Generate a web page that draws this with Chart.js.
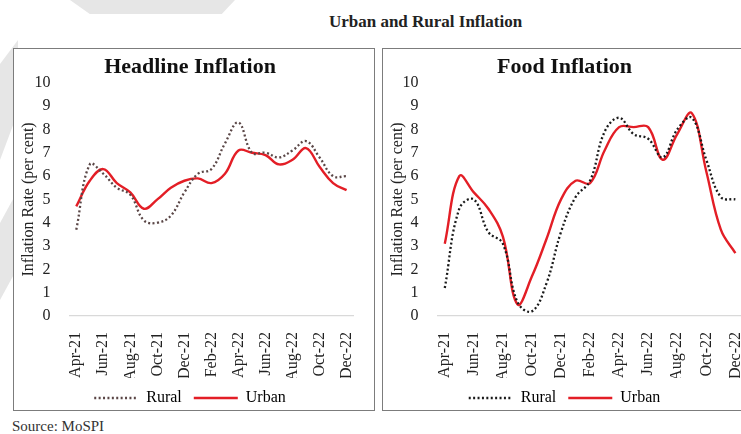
<!DOCTYPE html>
<html>
<head>
<meta charset="utf-8">
<script src="https://cdn.jsdelivr.net/npm/chart.js@4/dist/chart.umd.min.js"></script>
<style>
    html, body { margin: 0; padding: 0; background: #fff; }
    body { width: 741px; height: 434px; overflow: hidden; position: relative; font-family: 'Liberation Serif', serif; }
    .marca { position: absolute; background: #e6e6e6; }
    #titulo { position: absolute; left: 0; width: 851px; top: 12px; text-align: center; font-weight: bold; font-size: 17px; color: #222; }
    .painel { position: absolute; top: 48px; height: 361px; border: 1.5px solid #7c7c7c; overflow: hidden; background: #fff; }
    #fonte { position: absolute; left: 12px; top: 418px; font-size: 15px; color: #333; }
</style>
</head>
<body>
<div class="marca" style="left:0;top:40px;width:18px;height:120px;clip-path:polygon(0 20%,100% 0,100% 60%,0 100%);"></div>
<div class="marca" style="left:0;top:190px;width:18px;height:110px;clip-path:polygon(0 30%,100% 0,100% 70%,0 100%);"></div>
<div class="marca" style="left:70px;top:0;width:165px;height:14px;clip-path:polygon(0 0,100% 0,92% 100%,12% 100%);"></div>

<div id="titulo">Urban and Rural Inflation</div>

<div class="painel" style="left:13px;width:360px;"><canvas id="grafico-headline" width="360" height="367"></canvas></div>
<div class="painel" style="left:382px;width:380px;"><canvas id="grafico-food" width="380" height="367"></canvas></div>

<div id="fonte">Source: MoSPI</div>

<script>
// meses Apr-21 .. Dec-22
const meses = ['Apr-21', 'May-21', 'Jun-21', 'Jul-21', 'Aug-21', 'Sep-21', 'Oct-21', 'Nov-21', 'Dec-21',
    'Jan-22', 'Feb-22', 'Mar-22', 'Apr-22', 'May-22', 'Jun-22', 'Jul-22', 'Aug-22', 'Sep-22', 'Oct-22', 'Nov-22', 'Dec-22'];

const headlineRural = [3.7, 6.5, 6.1, 5.5, 5.2, 4.1, 4.0, 4.3, 5.3, 6.1, 6.3, 7.4, 8.3, 7.0, 7.0, 6.8, 7.1, 7.5, 6.8, 6.0, 6.0];
const headlineUrban = [4.7, 5.8, 6.3, 5.7, 5.3, 4.6, 5.0, 5.5, 5.8, 5.9, 5.7, 6.1, 7.1, 7.0, 6.9, 6.5, 6.7, 7.2, 6.4, 5.7, 5.4];

const foodRural = [1.2, 4.6, 5.0, 3.6, 3.1, 0.6, 0.2, 1.4, 3.6, 5.1, 5.8, 7.9, 8.5, 7.8, 7.6, 6.8, 8.0, 8.5, 6.7, 5.1, 5.0];
const foodUrban = [3.1, 6.0, 5.3, 4.6, 3.4, 0.5, 1.7, 3.3, 5.0, 5.8, 5.7, 7.1, 8.1, 8.1, 8.1, 6.7, 7.8, 8.7, 6.2, 3.7, 2.7];

const VERMELHO = '#e31e26';
const PONTILHADO = [2, 2.4];
const fonteSerif = 'Liberation Serif';

function criarGrafico(id, titulo, rural, urban, corRural, padDireita, larguraY) {
    const ctx = document.getElementById(id);

    new Chart(ctx, {
        type: 'line',
        data: {
            labels: meses,
            datasets: [
                {
                    label: 'Rural',
                    data: rural,
                    borderColor: corRural,
                    borderWidth: 2.3,
                    borderDash: PONTILHADO,
                    pointRadius: 0,
                    tension: 0.4,
                    fill: false
                },
                {
                    label: 'Urban',
                    data: urban,
                    borderColor: VERMELHO,
                    borderWidth: 2.4,
                    pointRadius: 0,
                    tension: 0.4,
                    fill: false
                }
            ]
        },
        options: {
            responsive: false,
            animation: false,
            devicePixelRatio: 1,
            layout: { padding: { left: 1, right: padDireita, top: 0, bottom: 0 } },
            plugins: {
                title: {
                    display: true,
                    text: titulo,
                    color: '#111',
                    font: { family: fonteSerif, size: 22, weight: 'bold' },
                    padding: { top: 5, bottom: 2.4 }
                },
                legend: {
                    position: 'bottom',
                    labels: {
                        usePointStyle: true,
                        pointStyle: 'line',
                        pointStyleWidth: 44,
                        padding: 12,
                        color: '#222',
                        font: { family: fonteSerif, size: 16 },
                        // o padrão pega o estilo do ponto, então o tracejado some
                        generateLabels: chart => chart.data.datasets.map((ds, i) => ({
                            text: ds.label,
                            datasetIndex: i,
                            strokeStyle: ds.borderColor,
                            fillStyle: ds.borderColor,
                            lineWidth: ds.borderWidth,
                            lineDash: ds.borderDash || [],
                            pointStyle: 'line',
                            hidden: false
                        }))
                    }
                },
                tooltip: { enabled: false }
            },
            scales: {
                x: {
                    offset: true,
                    grid: { display: false },
                    border: { color: '#d9d9d9', width: 1.2 },
                    ticks: {
                        autoSkip: false,
                        maxRotation: 90,
                        minRotation: 90,
                        padding: 8,
                        color: '#222',
                        font: { family: fonteSerif, size: 16 },
                        callback: (v, i) => i % 2 === 0 ? meses[i] : ''
                    },
                    afterFit: s => { s.height = 62; }
                },
                y: {
                    min: 0,
                    max: 10,
                    grid: { display: false },
                    border: { display: false },
                    ticks: {
                        stepSize: 1,
                        padding: 11,
                        color: '#222',
                        font: { family: fonteSerif, size: 16 }
                    },
                    title: {
                        display: true,
                        text: 'Inflation Rate (per cent)',
                        color: '#222',
                        font: { family: fonteSerif, size: 16 },
                        padding: { top: 4, bottom: 4 }
                    },
                    afterFit: s => { s.width = larguraY; }
                }
            }
        }
    });
}

criarGrafico('grafico-headline', 'Headline Inflation', headlineRural, headlineUrban, '#5a4646', 9, 54.5);
criarGrafico('grafico-food', 'Food Inflation', foodRural, foodUrban, '#1a1a1a', 18, 53.5);
</script>
</body>
</html>
